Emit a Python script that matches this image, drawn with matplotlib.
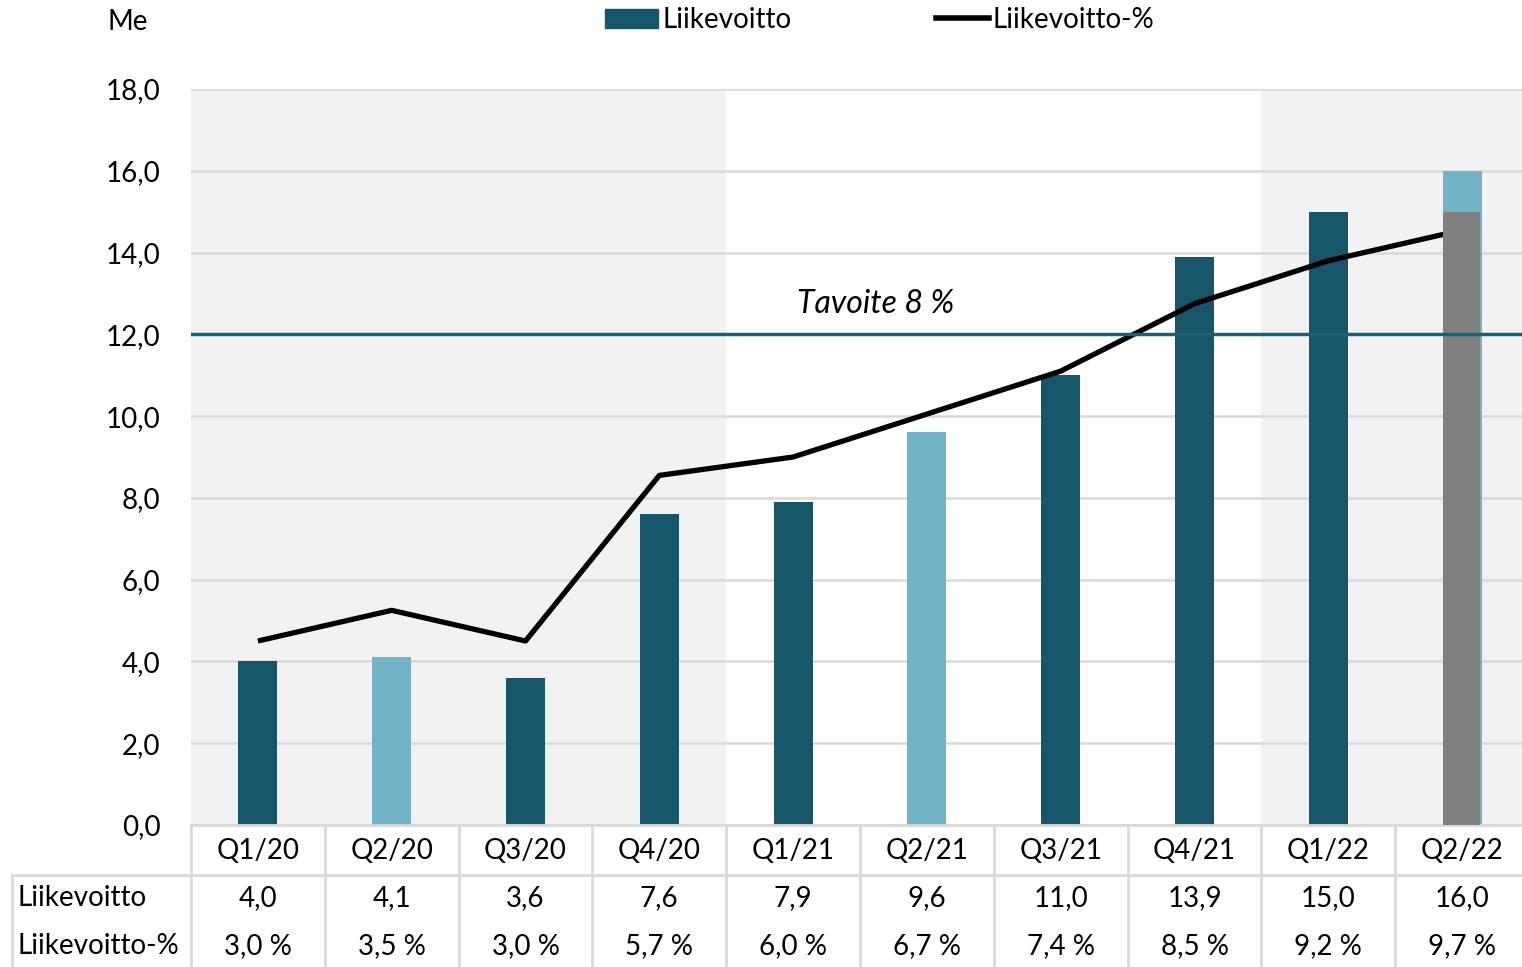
import matplotlib.pyplot as plt
from matplotlib.lines import Line2D
from matplotlib.patches import Patch

plt.rcParams['font.family'] = ['Lato', 'DejaVu Sans']

quarters = ['Q1/20', 'Q2/20', 'Q3/20', 'Q4/20', 'Q1/21', 'Q2/21', 'Q3/21', 'Q4/21', 'Q1/22', 'Q2/22']
liikevoitto = [4.0, 4.1, 3.6, 7.6, 7.9, 9.6, 11.0, 13.9, 15.0, 16.0]
liikevoitto_pct = [3.0, 3.5, 3.0, 5.7, 6.0, 6.7, 7.4, 8.5, 9.2, 9.7]
bar_kind = ['dark', 'light', 'dark', 'dark', 'dark', 'light', 'dark', 'dark', 'dark', 'split']
split_base = 15.0   # gray part of the last bar
target_pct = 8.0

dark = '#17566A'
light = '#72B3C8'
gray = '#808080'
gridc = '#D9D9D9'
fs = 20

fig = plt.figure(figsize=(15.22, 9.67), dpi=100)
ax = fig.add_axes([191/1522, 1-825/967, (1529-191)/1522, 736/967])
x = list(range(len(quarters)))
cw = (1529 - 191) / 10  # px per category

# year shading
ax.axvspan(-0.5, 3.5, color='#F2F2F2', zorder=0, lw=0)
ax.axvspan(7.5, 9.5, color='#F2F2F2', zorder=0, lw=0)

for v in range(0, 19, 2):
    ax.axhline(v, color=gridc, lw=1.8, zorder=1)

w = 0.29
for i, (v, k) in enumerate(zip(liikevoitto, bar_kind)):
    if k == 'split':
        ax.bar(i, v, width=w, color=light, zorder=2)
    else:
        ax.bar(i, v, width=w, color=dark if k == 'dark' else light, zorder=2)

ax.set_xlim(-0.5, 9.5)
ax.set_ylim(0, 18)
ax.set_yticks(range(0, 19, 2))
ax.set_yticklabels([f'{v},0' for v in range(0, 19, 2)], fontsize=fs)
ax.tick_params(axis='y', length=0, pad=22)
ax.set_xticks([])
for s in ax.spines.values():
    s.set_visible(False)

# percentage line on secondary scale
ax2 = ax.twinx()
ax2.axhline(target_pct, color='#1F5F74', lw=2.5, zorder=7)
ax2.plot(x, liikevoitto_pct, color='black', lw=3.8, zorder=5, solid_capstyle='butt')
# gray part of the last bar sits above the line (drawn in the left-axis scale)
for i, k in enumerate(bar_kind):
    if k == 'split':
        ax2.bar(i - 0.005, split_base, width=w - 0.01, color=gray, zorder=6, transform=ax.transData)
ax2.text(4.62, 8.25, 'Tavoite 8 %', fontsize=23, style='italic', ha='center', va='bottom')
ax2.set_xlim(-0.5, 9.5)
ax2.set_ylim(0, 12)
ax2.axis('off')

# table below
tr = ax.get_xaxis_transform()
def ya(px):
    return (825 - px) / 736

xl = -0.5 - 179 / cw
ax.add_line(Line2D([-0.5, 9.5], [0, 0], transform=tr, color=gridc, lw=2, clip_on=False))
ax.add_line(Line2D([xl, 9.5], [ya(875), ya(875)], transform=tr, color=gridc, lw=2, clip_on=False))
for b in range(len(quarters)):
    ax.add_line(Line2D([b - 0.5, b - 0.5], [0, ya(967)], transform=tr, color=gridc, lw=2, clip_on=False))
ax.add_line(Line2D([xl, xl], [ya(875), ya(967)], transform=tr, color=gridc, lw=2, clip_on=False))

for i, q in enumerate(quarters):
    ax.text(i, ya(851), q, transform=tr, ha='center', va='center', fontsize=fs)
    ax.text(i, ya(898), f'{liikevoitto[i]:.1f}'.replace('.', ','), transform=tr, ha='center', va='center', fontsize=fs)
    ax.text(i, ya(946), f'{liikevoitto_pct[i]:.1f} %'.replace('.', ','), transform=tr, ha='center', va='center', fontsize=fs)
fig.text(17/1522, 1-898/967, 'Liikevoitto', ha='left', va='center', fontsize=fs)
fig.text(17/1522, 1-946/967, 'Liikevoitto-%', ha='left', va='center', fontsize=fs)

fig.text(128/1522, 1-22/967, 'Me', ha='center', va='center', fontsize=fs)

handles = [Patch(color=dark), Line2D([0], [0], color='black', lw=4)]
fig.legend(handles, ['Liikevoitto', 'Liikevoitto-%'], loc='center', bbox_to_anchor=(880/1522, 1-20/967),
           ncol=2, frameon=False, fontsize=fs, handlelength=1.9, handletextpad=0.15, columnspacing=5.2)

fig.savefig('out.png', dpi=100)
